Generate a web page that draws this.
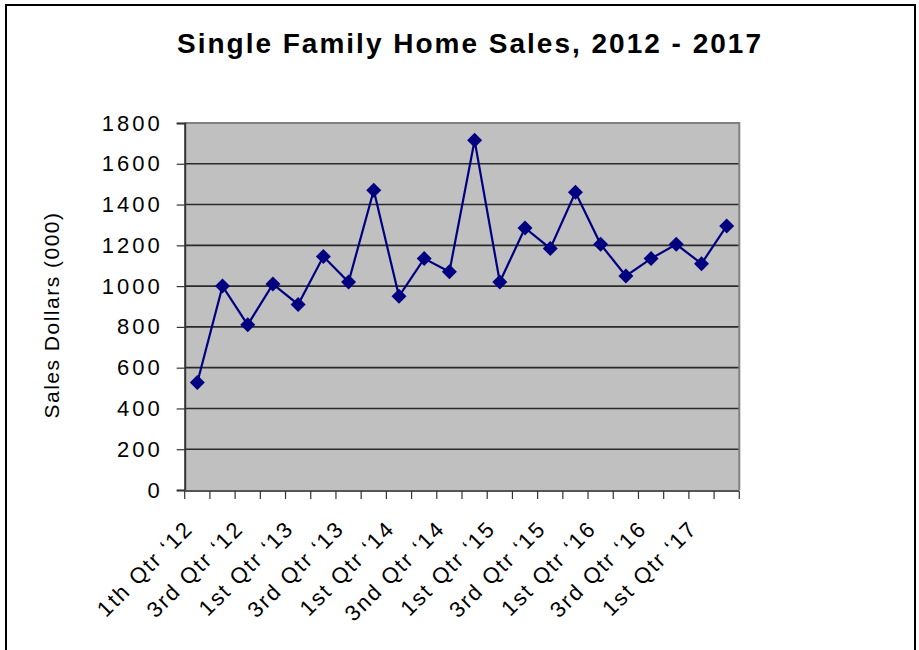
<!DOCTYPE html>
<html>
<head>
<meta charset="utf-8">
<script src="https://cdn.jsdelivr.net/npm/d3@7"></script>
<style>
  body { margin: 0; background: #fff; }
  svg { display: block; font-family: "Liberation Sans", Arial, sans-serif; }
</style>
</head>
<body>
<div class="svgWrapper"></div>
<script>
// Data //
const quarters = [
  "1th Qtr \u201812", "2nd Qtr \u201812", "3rd Qtr \u201812", "4th Qtr \u201812",
  "1st Qtr \u201813", "2nd Qtr \u201813", "3rd Qtr \u201813", "4th Qtr \u201813",
  "1st Qtr \u201814", "2nd Qtr \u201814", "3nd Qtr \u201814", "4th Qtr \u201814",
  "1st Qtr \u201815", "2nd Qtr \u201815", "3rd Qtr \u201815", "4th Qtr \u201815",
  "1st Qtr \u201816", "2nd Qtr \u201816", "3rd Qtr \u201816", "4th Qtr \u201816",
  "1st Qtr \u201817", "2nd Qtr \u201817"
];
const sales = [
  527, 1000, 810, 1010, 910, 1145, 1020, 1470, 950, 1135, 1070,
  1715, 1020, 1285, 1185, 1460, 1205, 1050, 1135, 1205, 1110, 1295
];
const yTicks = [0, 200, 400, 600, 800, 1000, 1200, 1400, 1600, 1800];

// Styles //
const svgStyles = { w: 919, h: 650 };
const plot = { left: 184.7, right: 739.3, top: 123, bottom: 490 };

let svg = d3
  .select(".svgWrapper")
  .append("svg")
  .attr("width", svgStyles.w)
  .attr("height", svgStyles.h);

// outer frame
svg
  .append("rect")
  .attr("x", 6)
  .attr("y", 5)
  .attr("width", 909)
  .attr("height", 700)
  .attr("fill", "none")
  .attr("stroke", "#000")
  .attr("stroke-width", 2);

// title
svg
  .append("text")
  .attr("x", 470)
  .attr("y", 53)
  .attr("text-anchor", "middle")
  .style("font-size", "28px")
  .style("font-weight", "bold")
  .style("letter-spacing", "2px")
  .text("Single Family Home Sales, 2012 - 2017");

// scales
const xScale = d3
  .scaleBand()
  .domain(quarters)
  .range([plot.left, plot.right]);

const yScale = d3
  .scaleLinear()
  .domain([0, 1800])
  .range([plot.bottom, plot.top]);

// plot background
svg
  .append("rect")
  .attr("x", plot.left)
  .attr("y", plot.top)
  .attr("width", plot.right - plot.left)
  .attr("height", plot.bottom - plot.top)
  .attr("fill", "#c0c0c0");

// gridlines
svg
  .append("g")
  .selectAll("line")
  .data(yTicks.slice(1, -1))
  .enter()
  .append("line")
  .attr("x1", plot.left)
  .attr("x2", plot.right)
  .attr("y1", d => yScale(d))
  .attr("y2", d => yScale(d))
  .attr("stroke", "#2a2a2a")
  .attr("stroke-width", 1.6);

// top / right border
svg
  .append("path")
  .attr("d", `M${plot.left},${plot.top}H${plot.right}V${plot.bottom}`)
  .attr("fill", "none")
  .attr("stroke", "#808080")
  .attr("stroke-width", 2);

// Y axis
const yAxis = d3
  .axisLeft(yScale)
  .tickValues(yTicks)
  .tickFormat(d3.format("d"))
  .tickSize(8)
  .tickPadding(14);

const yG = svg
  .append("g")
  .attr("transform", `translate(${plot.left}, 0)`)
  .call(yAxis);
yG.select(".domain").attr("stroke", "#333").attr("stroke-width", 2);
yG.selectAll(".tick line").attr("stroke", "#333").attr("stroke-width", 1.2);
yG.selectAll("text")
  .style("font-size", "22px")
  .style("letter-spacing", "3px")
  .style("font-family", "Liberation Sans, Arial, sans-serif")
  .attr("fill", "#000");

// X axis (ticks at category boundaries)
const boundaries = quarters.map(q => xScale(q)).concat([plot.right]);
const xG = svg.append("g");
xG.append("line")
  .attr("x1", plot.left)
  .attr("x2", plot.right)
  .attr("y1", plot.bottom + 1)
  .attr("y2", plot.bottom + 1)
  .attr("stroke", "#555")
  .attr("stroke-width", 2);
xG.selectAll(".xtick")
  .data(boundaries)
  .enter()
  .append("line")
  .attr("x1", d => d)
  .attr("x2", d => d)
  .attr("y1", plot.bottom + 1)
  .attr("y2", plot.bottom + 9)
  .attr("stroke", "#333")
  .attr("stroke-width", 1.2);

xG.selectAll(".xlabel")
  .data(quarters.filter((q, i) => i % 2 === 0))
  .enter()
  .append("text")
  .attr("text-anchor", "end")
  .attr(
    "transform",
    d => `translate(${xScale(d) + xScale.bandwidth() / 2 - 3}, ${plot.bottom + 40}) rotate(-45)`
  )
  .style("font-size", "22px")
  .style("letter-spacing", "2px")
  .text(d => d);

// Y axis title
svg
  .append("text")
  .attr("transform", `translate(59, 315) rotate(-90)`)
  .attr("text-anchor", "middle")
  .style("font-size", "21px")
  .style("letter-spacing", "1.5px")
  .text("Sales Dollars (000)");

// line
const line = d3
  .line()
  .x((d, i) => xScale(quarters[i]) + xScale.bandwidth() / 2)
  .y(d => yScale(d));

svg
  .append("path")
  .datum(sales)
  .attr("d", line)
  .attr("fill", "none")
  .attr("stroke", "#000080")
  .attr("stroke-width", 2.2);

// diamond markers
svg
  .append("g")
  .selectAll("path")
  .data(sales)
  .enter()
  .append("path")
  .attr("d", "M0,-7.5L7.5,0L0,7.5L-7.5,0Z")
  .attr(
    "transform",
    (d, i) => `translate(${xScale(quarters[i]) + xScale.bandwidth() / 2}, ${yScale(d)})`
  )
  .attr("fill", "#000080");
</script>
</body>
</html>
